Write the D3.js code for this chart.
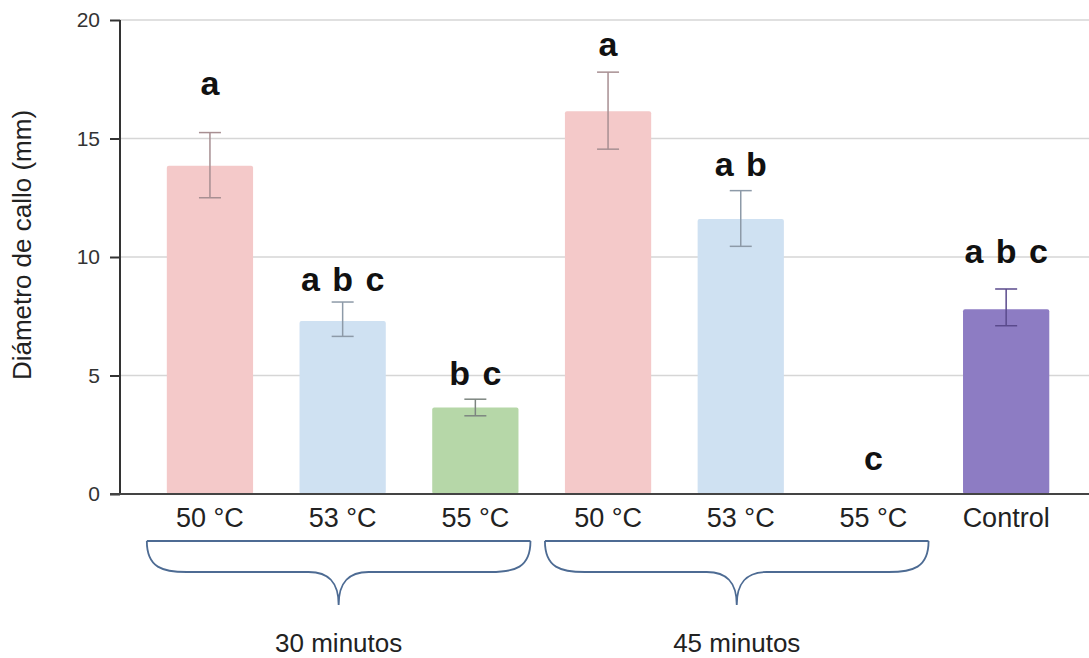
<!DOCTYPE html>
<html>
<head>
<meta charset="utf-8">
<script src="https://cdn.jsdelivr.net/npm/d3@7"></script>
<style>
  body { margin: 0; background: #fff; }
  svg { display: block; font-family: "Liberation Sans", Arial, sans-serif; }
</style>
</head>
<body>
<svg id="chart"></svg>
<script>
const categories = ['50 °C', '53 °C', '55 °C', '50 °C ', '53 °C ', '55 °C ', 'Control'],
      means = [13.85, 7.3, 3.65, 16.15, 11.6, 0, 7.8],
      errLow = [12.5, 6.65, 3.3, 14.55, 10.45, 0, 7.1],
      errHigh = [15.25, 8.1, 4.0, 17.8, 12.8, 0, 8.65],
      letters = ['a', 'a b c', 'b c', 'a', 'a b', 'c', 'a b c'],
      letterAt = [16.85, 8.55, 4.6, 18.5, 13.4, 1.0, 9.75],
      yTicks = [0, 5, 10, 15, 20],
      groups = [
        { label: '30 minutos', from: 0, to: 2 },
        { label: '45 minutos', from: 3, to: 5 }
      ];

const fills = ['#f4c9c9', '#cfe1f2', '#b6d7a8', '#f4c9c9', '#cfe1f2', '#cfe1f2', '#8d7cc3'],
      errColors = ['#a78f92', '#8d9aa8', '#7d8580', '#a78f92', '#8d9aa8', '#8d9aa8', '#5a4a8c'];

const width = 1089,
      height = 658;

const $chart = d3.select('#chart')
                 .attr('width', width)
                 .attr('height', height);

const x = d3.scaleBand()
  .domain(categories)
  .range([143.6, 1072.5])
  .paddingInner(0.35)
  .paddingOuter(0.175);

const y = d3.scaleLinear()
  .domain([0, 20])
  .range([494, 20]);

// gridlines
$chart.append('g')
  .selectAll('line')
  .data(yTicks.filter((d) => d > 0))
  .enter()
  .append('line')
    .attr('x1', 120)
    .attr('x2', width)
    .attr('y1', (d) => y(d))
    .attr('y2', (d) => y(d))
    .attr('stroke', '#d6d6d6')
    .attr('stroke-width', 1.5);

// bars
$chart.append('g')
  .selectAll('rect')
  .data(means)
  .enter()
  .append('rect')
    .attr('x', (d, i) => x(categories[i]))
    .attr('y', (d) => y(d))
    .attr('width', x.bandwidth())
    .attr('height', (d) => y(0) - y(d))
    .attr('rx', 2)
    .attr('fill', (d, i) => fills[i]);

// error bars
const err = $chart.append('g')
  .selectAll('g')
  .data(means.map((d, i) => i).filter((i) => errHigh[i] > errLow[i]))
  .enter()
  .append('g')
    .attr('stroke', (i) => errColors[i])
    .attr('stroke-width', 1.5);

const cx = (i) => x(categories[i]) + x.bandwidth() / 2;

err.append('line')
  .attr('x1', cx).attr('x2', cx)
  .attr('y1', (i) => y(errLow[i]))
  .attr('y2', (i) => y(errHigh[i]));

[errLow, errHigh].forEach((arr) => {
  err.append('line')
    .attr('x1', (i) => cx(i) - 11)
    .attr('x2', (i) => cx(i) + 11)
    .attr('y1', (i) => y(arr[i]))
    .attr('y2', (i) => y(arr[i]));
});

// significance letters
$chart.append('g')
  .selectAll('text')
  .data(letters)
  .enter()
  .append('text')
    .attr('x', (d, i) => cx(i))
    .attr('y', (d, i) => y(letterAt[i]))
    .attr('text-anchor', 'middle')
    .attr('font-size', 34)
    .attr('font-weight', 'bold')
    .attr('word-spacing', 3)
    .attr('fill', '#111')
    .text((d) => d);

// y axis
const yAxis = $chart.append('g')
  .attr('transform', 'translate(120,0)')
  .call(d3.axisLeft(y).tickValues(yTicks).tickSize(10).tickPadding(10));

yAxis.select('.domain').attr('stroke', '#333').attr('stroke-width', 2).attr('d', `M0,${y(20)}V${y(0)}`);
yAxis.selectAll('.tick line').attr('stroke', '#333').attr('stroke-width', 2);
yAxis.selectAll('.tick text')
  .attr('font-size', 21)
  .attr('fill', '#333')
  .attr('font-family', '"Liberation Sans", Arial, sans-serif');

// baseline
$chart.append('line')
  .attr('x1', 110)
  .attr('x2', width)
  .attr('y1', y(0))
  .attr('y2', y(0))
  .attr('stroke', '#444')
  .attr('stroke-width', 2);

// x labels
$chart.append('g')
  .selectAll('text')
  .data(categories)
  .enter()
  .append('text')
    .attr('x', (d) => x(d) + x.bandwidth() / 2)
    .attr('y', 527)
    .attr('text-anchor', 'middle')
    .attr('font-size', 27)
    .attr('fill', '#222')
    .text((d) => d.trim());

// y title
$chart.append('text')
  .attr('transform', 'translate(31,245) rotate(-90)')
  .attr('text-anchor', 'middle')
  .attr('font-size', 26)
  .attr('fill', '#222')
  .text('Diámetro de callo (mm)');

// group braces
const brace = (x0, x1) => {
  const top = 541, mid = 572, tip = 605, c = (x0 + x1) / 2;
  return `M${x0},${top}H${x1}` +
    `M${x0},${top}C${x0},${mid - 4} ${x0 + 16},${mid} ${x0 + 40},${mid}` +
    `H${c - 30}C${c - 10},${mid} ${c},${mid + 10} ${c},${tip}` +
    `C${c},${mid + 10} ${c + 10},${mid} ${c + 30},${mid}` +
    `H${x1 - 40}C${x1 - 16},${mid} ${x1},${mid - 4} ${x1},${top}`;
};

const g = $chart.append('g')
  .selectAll('g')
  .data(groups)
  .enter()
  .append('g');

g.append('path')
  .attr('d', (d) => brace(x(categories[d.from]) - 20, x(categories[d.to]) + x.bandwidth() + 12))
  .attr('fill', 'none')
  .attr('stroke', '#4d6b93')
  .attr('stroke-width', 1.8);

g.append('text')
  .attr('x', (d) => (x(categories[d.from]) - 20 + x(categories[d.to]) + x.bandwidth() + 12) / 2)
  .attr('y', 652)
  .attr('text-anchor', 'middle')
  .attr('font-size', 26)
  .attr('fill', '#222')
  .text((d) => d.label);
</script>
</body>
</html>
